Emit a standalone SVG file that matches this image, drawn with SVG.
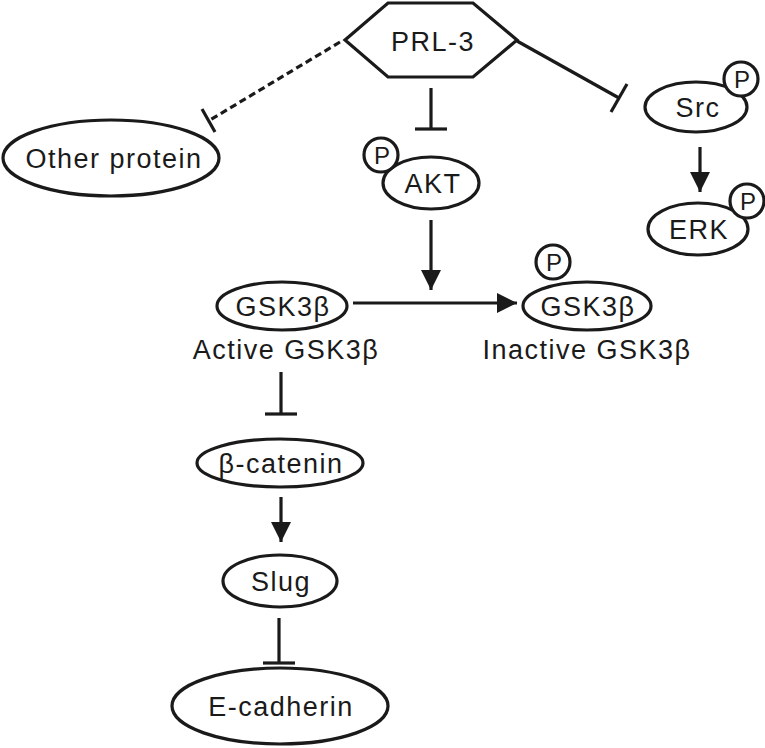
<svg xmlns="http://www.w3.org/2000/svg" width="765" height="748" viewBox="0 0 765 748">
<style>
.n{fill:#fff;stroke:#1a1a1a;stroke-width:3.2}
.t{font-family:"Liberation Sans",Arial,sans-serif;font-size:27px;letter-spacing:1.5px;fill:#1a1a1a;text-anchor:middle}
.p{font-family:"Liberation Sans",Arial,sans-serif;font-size:24px;fill:#1a1a1a;text-anchor:middle}
.c{fill:none;stroke:#1a1a1a;stroke-width:3.2}
</style>
<defs>
<marker id="ah" markerWidth="20" markerHeight="20" viewBox="0 0 20 20" refX="20" refY="10" orient="auto" markerUnits="userSpaceOnUse">
<path d="M0,0 L20,10 L0,20 Z" fill="#1a1a1a"/>
</marker>
</defs>
<rect width="765" height="748" fill="#fff"/>
<g id="connectors">
<path class="c" d="M340,42 L210,120" stroke-dasharray="7,4"/>
<path class="c" d="M202,109 L215,132"/>
<path class="c" d="M517,41 L619,98"/>
<path class="c" d="M611,112 L627,84"/>
<path class="c" d="M431,88 L431,129"/>
<path class="c" d="M415,129 L447,129"/>
<path class="c" d="M700,147 L700,192" marker-end="url(#ah)"/>
<path class="c" d="M431,220 L431,290" marker-end="url(#ah)"/>
<path class="c" d="M353,303 L517,303" marker-end="url(#ah)"/>
<path class="c" d="M281,372 L281,414"/>
<path class="c" d="M265,414 L297,414"/>
<path class="c" d="M281,497 L281,542" marker-end="url(#ah)"/>
<path class="c" d="M279,618 L279,663"/>
<path class="c" d="M263,663 L295,663"/>
</g>
<g id="prl3">
<polygon class="n" points="345,40 388,3 473,3 517,40 473,77 388,77"/>
<text class="t" x="433" y="51" letter-spacing="2px">PRL-3</text>
</g>
<g id="other">
<ellipse class="n" cx="111" cy="158" rx="108" ry="38"/>
<text class="t" x="114" y="168">Other protein</text>
</g>
<g id="akt">
<ellipse class="n" cx="431" cy="183" rx="48" ry="26"/>
<circle class="n" cx="381" cy="155" r="17"/>
<text class="p" x="382" y="164">P</text>
<text class="t" x="433" y="193">AKT</text>
</g>
<g id="src">
<ellipse class="n" cx="696" cy="107" rx="51" ry="25"/>
<circle class="n" cx="741" cy="79" r="17"/>
<text class="p" x="742" y="88">P</text>
<text class="t" x="698" y="117">Src</text>
</g>
<g id="erk">
<ellipse class="n" cx="698" cy="229" rx="50" ry="26"/>
<circle class="n" cx="747" cy="201" r="17"/>
<text class="p" x="748" y="210">P</text>
<text class="t" x="699" y="239">ERK</text>
</g>
<g id="gsk-active">
<ellipse class="n" cx="282" cy="306" rx="65" ry="24"/>
<text class="t" x="283" y="316">GSK3β</text>
<text class="t" x="286" y="359">Active GSK3β</text>
</g>
<g id="gsk-inactive">
<circle class="n" cx="553" cy="262" r="17"/>
<text class="p" x="554" y="271">P</text>
<ellipse class="n" cx="587" cy="306" rx="64" ry="24"/>
<text class="t" x="588" y="316">GSK3β</text>
<text class="t" x="587" y="359">Inactive GSK3β</text>
</g>
<g id="bcat">
<ellipse class="n" cx="280" cy="463" rx="83" ry="24"/>
<text class="t" x="281" y="473">β-catenin</text>
</g>
<g id="slug">
<ellipse class="n" cx="280" cy="581" rx="57" ry="26"/>
<text class="t" x="281" y="591">Slug</text>
</g>
<g id="ecad">
<ellipse class="n" cx="280" cy="706" rx="108" ry="38"/>
<text class="t" x="281" y="716">E-cadherin</text>
</g>
</svg>
